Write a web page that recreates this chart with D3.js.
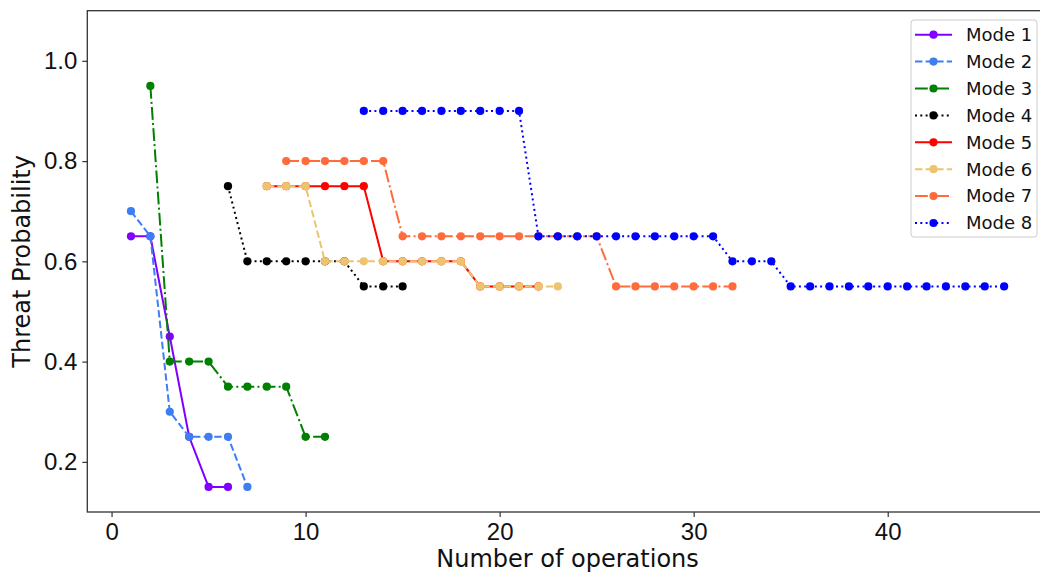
<!DOCTYPE html>
<html>
<head>
<meta charset="utf-8">
<script src="https://cdnjs.cloudflare.com/ajax/libs/d3/7.8.5/d3.min.js"></script>
<style>
  body { margin: 0; background: #fff; }
  svg { display: block; font-family: "DejaVu Sans", sans-serif; }
</style>
</head>
<body>
<div id="chart"></div>
<script>
// data
var modeNames = ["Mode 1", "Mode 2", "Mode 3", "Mode 4", "Mode 5", "Mode 6", "Mode 7", "Mode 8"];

var mode1Ops = [1, 2, 3, 4, 5, 6];
var mode1Prob = [0.65, 0.65, 0.45, 0.25, 0.15, 0.15];

var mode2Ops = [1, 2, 3, 4, 5, 6, 7];
var mode2Prob = [0.70, 0.65, 0.30, 0.25, 0.25, 0.25, 0.15];

var mode3Ops = [2, 3, 4, 5, 6, 7, 8, 9, 10, 11];
var mode3Prob = [0.95, 0.40, 0.40, 0.40, 0.35, 0.35, 0.35, 0.35, 0.25, 0.25];

var mode4Ops = [6, 7, 8, 9, 10, 11, 12, 13, 14, 15];
var mode4Prob = [0.75, 0.60, 0.60, 0.60, 0.60, 0.60, 0.60, 0.55, 0.55, 0.55];

var mode5Ops = [8, 9, 10, 11, 12, 13, 14, 15, 16, 17, 18, 19, 20, 21, 22];
var mode5Prob = [0.75, 0.75, 0.75, 0.75, 0.75, 0.75, 0.60, 0.60, 0.60, 0.60, 0.60, 0.55, 0.55, 0.55, 0.55];

var mode6Ops = [8, 9, 10, 11, 12, 13, 14, 15, 16, 17, 18, 19, 20, 21, 22, 23];
var mode6Prob = [0.75, 0.75, 0.75, 0.60, 0.60, 0.60, 0.60, 0.60, 0.60, 0.60, 0.60, 0.55, 0.55, 0.55, 0.55, 0.55];

var mode7Ops = [9, 10, 11, 12, 13, 14, 15, 16, 17, 18, 19, 20, 21, 22, 23, 24, 25, 26, 27, 28, 29, 30, 31, 32];
var mode7Prob = [0.80, 0.80, 0.80, 0.80, 0.80, 0.80, 0.65, 0.65, 0.65, 0.65, 0.65, 0.65, 0.65, 0.65, 0.65, 0.65, 0.65,
                 0.55, 0.55, 0.55, 0.55, 0.55, 0.55, 0.55];

var mode8Ops = [13, 14, 15, 16, 17, 18, 19, 20, 21, 22, 23, 24, 25, 26, 27, 28, 29, 30, 31, 32, 33, 34,
                35, 36, 37, 38, 39, 40, 41, 42, 43, 44, 45, 46];
var mode8Prob = [0.90, 0.90, 0.90, 0.90, 0.90, 0.90, 0.90, 0.90, 0.90, 0.65, 0.65, 0.65, 0.65, 0.65, 0.65, 0.65,
                 0.65, 0.65, 0.65, 0.60, 0.60, 0.60, 0.55, 0.55, 0.55, 0.55, 0.55, 0.55, 0.55, 0.55, 0.55, 0.55,
                 0.55, 0.55];

var xTicks = [0, 10, 20, 30, 40];
var yTicks = [0.2, 0.4, 0.6, 0.8, 1.0];

var allOps = [mode1Ops, mode2Ops, mode3Ops, mode4Ops, mode5Ops, mode6Ops, mode7Ops, mode8Ops];
var allProb = [mode1Prob, mode2Prob, mode3Prob, mode4Prob, mode5Prob, mode6Prob, mode7Prob, mode8Prob];

// styles
var colors = ["#8000ff", "#3d7ef2", "#008000", "#000000", "#ff0000", "#edc36e", "#ff6b3b", "#0000ff"];
var dashes = ["none", "7.4,3.2", "12.8,3.2,2,3.2", "2,3.3", "none", "7.4,3.2", "12.8,3.2,2,3.2", "2,3.3"];

var series = modeNames.map(function(name, i) {
  return {
    name: name,
    color: colors[i],
    dash: dashes[i],
    points: allOps[i].map(function(o, j) { return { x: o, y: allProb[i][j] }; })
  };
});

var width = 1040, height = 575;
var plotLeft = 87.3, plotRight = 1047.8, plotTop = 10.7, plotBottom = 512;

var x = d3.scaleLinear().domain([-1.25, 48.25]).range([plotLeft, plotRight]);
var y = d3.scaleLinear().domain([0.1, 1.1]).range([plotBottom, plotTop]);

var svg = d3.select("#chart").append("svg")
  .attr("width", width)
  .attr("height", height);

// series
var line = d3.line()
  .x(function(d) { return x(d.x); })
  .y(function(d) { return y(d.y); });

var plot = svg.append("g");

series.forEach(function(s) {
  var g = plot.append("g");
  g.append("path")
    .datum(s.points)
    .attr("d", line)
    .attr("fill", "none")
    .attr("stroke", s.color)
    .attr("stroke-width", 2)
    .attr("stroke-dasharray", s.dash);
  g.selectAll("circle")
    .data(s.points)
    .enter().append("circle")
      .attr("cx", function(d) { return x(d.x); })
      .attr("cy", function(d) { return y(d.y); })
      .attr("r", 4.1)
      .attr("fill", s.color);
});

// axes
var xAxis = svg.append("g")
  .attr("transform", "translate(0," + plotBottom + ")")
  .call(d3.axisBottom(x).tickValues(xTicks).tickSize(5).tickPadding(6).tickFormat(d3.format("d")));

var yAxis = svg.append("g")
  .attr("transform", "translate(" + plotLeft + ",0)")
  .call(d3.axisLeft(y).tickValues(yTicks).tickSize(5).tickPadding(5).tickFormat(d3.format(".1f")));

[xAxis, yAxis].forEach(function(a) {
  a.select(".domain").remove();
  a.selectAll(".tick line").attr("stroke", "#333").attr("stroke-width", 1.2);
  a.selectAll(".tick text").attr("fill", "#111").style("font-size", "24px");
});

// spines
svg.append("rect")
  .attr("x", plotLeft)
  .attr("y", plotTop)
  .attr("width", plotRight - plotLeft)
  .attr("height", plotBottom - plotTop)
  .attr("fill", "none")
  .attr("stroke", "#333")
  .attr("stroke-width", 1.3);

// labels
svg.append("text")
  .attr("x", (plotLeft + plotRight) / 2)
  .attr("y", 567)
  .attr("text-anchor", "middle")
  .style("font-size", "24px")
  .attr("fill", "#111")
  .text("Number of operations");

svg.append("text")
  .attr("transform", "translate(30," + ((plotTop + plotBottom) / 2) + ") rotate(-90)")
  .attr("text-anchor", "middle")
  .style("font-size", "24px")
  .attr("fill", "#111")
  .text("Threat Probability");

// legend
var legend = svg.append("g").attr("transform", "translate(911,20)");

legend.append("rect")
  .attr("width", 126)
  .attr("height", 217)
  .attr("rx", 3)
  .attr("fill", "#fff")
  .attr("fill-opacity", 0.8)
  .attr("stroke", "#ccc")
  .attr("stroke-width", 1);

series.forEach(function(s, i) {
  var row = legend.append("g").attr("transform", "translate(0," + (14.7 + i * 26.9) + ")");
  row.append("line")
    .attr("x1", 4).attr("x2", 41)
    .attr("stroke", s.color)
    .attr("stroke-width", 2)
    .attr("stroke-dasharray", s.dash);
  row.append("circle")
    .attr("cx", 22.5)
    .attr("r", 4.1)
    .attr("fill", s.color);
  row.append("text")
    .attr("x", 55)
    .attr("dy", "0.35em")
    .style("font-size", "18px")
    .attr("fill", "#111")
    .text(s.name);
});
</script>
</body>
</html>
